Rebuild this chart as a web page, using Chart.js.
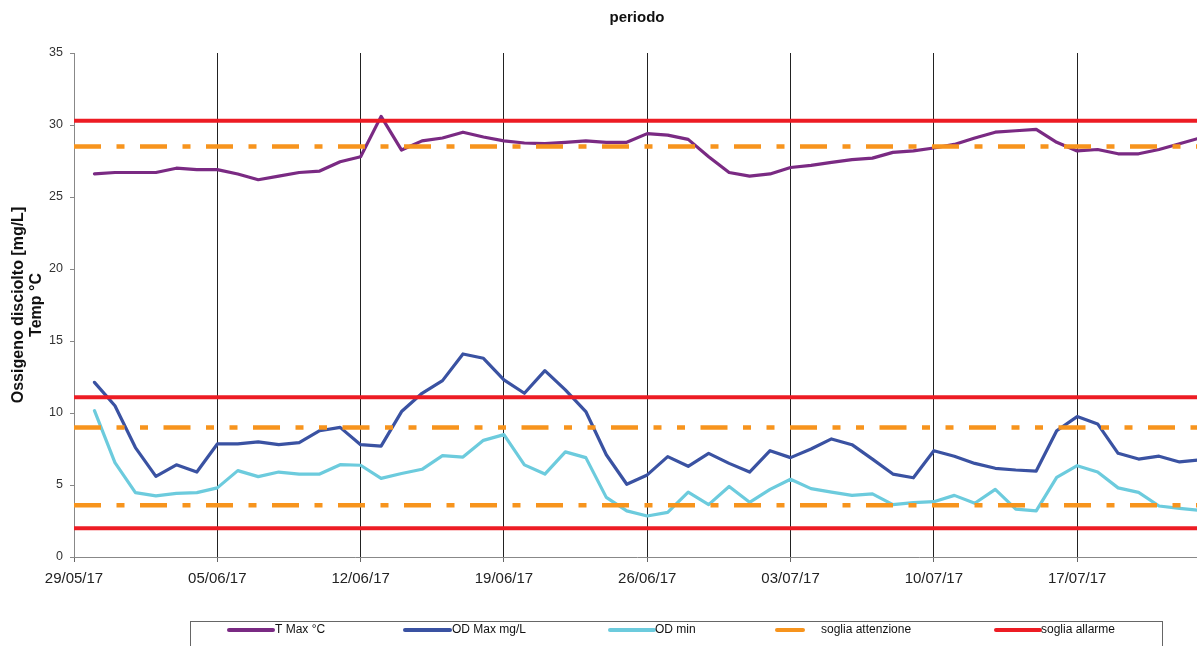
<!DOCTYPE html>
<html lang="it">
<head>
    <meta charset="UTF-8">
    <title>periodo</title>
    <script src="https://cdn.jsdelivr.net/npm/chart.js"></script>
    <style>
        html, body { margin: 0; padding: 0; background: #fff; overflow: hidden; }
        #wrap { position: relative; width: 1200px; height: 646px; }
    </style>
</head>
<body>
    <div id="wrap"><canvas id="odChart"></canvas></div>

    <script>
        // dates (29/05/17 has no reading, it only starts the axis)
        const days = [
            '29/05/17', '30/05/17', '31/05/17',
            '01/06/17', '02/06/17', '03/06/17', '04/06/17', '05/06/17', '06/06/17', '07/06/17', '08/06/17', '09/06/17', '10/06/17',
            '11/06/17', '12/06/17', '13/06/17', '14/06/17', '15/06/17', '16/06/17', '17/06/17', '18/06/17', '19/06/17', '20/06/17',
            '21/06/17', '22/06/17', '23/06/17', '24/06/17', '25/06/17', '26/06/17', '27/06/17', '28/06/17', '29/06/17', '30/06/17',
            '01/07/17', '02/07/17', '03/07/17', '04/07/17', '05/07/17', '06/07/17', '07/07/17', '08/07/17', '09/07/17', '10/07/17',
            '11/07/17', '12/07/17', '13/07/17', '14/07/17', '15/07/17', '16/07/17', '17/07/17', '18/07/17', '19/07/17', '20/07/17',
            '21/07/17', '22/07/17', '23/07/17'
        ];
        const weekTicks = ['29/05/17', '05/06/17', '12/06/17', '19/06/17', '26/06/17', '03/07/17', '10/07/17', '17/07/17'];

        const tMax = [null,
            26.6, 26.7, 26.7, 26.7, 27.0, 26.9, 26.9, 26.6, 26.2, 26.45,
            26.7, 26.8, 27.45, 27.8, 30.6, 28.26, 28.9, 29.1, 29.5, 29.17,
            28.9, 28.75, 28.7, 28.8, 28.9, 28.8, 28.8, 29.4, 29.3, 29.0,
            27.8, 26.7, 26.45, 26.6, 27.05, 27.2, 27.4, 27.6, 27.7, 28.1,
            28.2, 28.4, 28.65, 29.1, 29.5, 29.6, 29.7, 28.8, 28.2, 28.3,
            28.0, 28.0, 28.3, 28.7, 29.1];
        const odMax = [null,
            12.13, 10.5, 7.6, 5.6, 6.4, 5.9, 7.85, 7.85, 8.0, 7.8,
            7.94, 8.77, 9.0, 7.8, 7.7, 10.1, 11.37, 12.25, 14.1, 13.8,
            12.3, 11.37, 12.94, 11.6, 10.1, 7.1, 5.05, 5.7, 6.97, 6.3,
            7.2, 6.5, 5.9, 7.38, 6.9, 7.5, 8.2, 7.8, 6.8, 5.76,
            5.5, 7.38, 7.0, 6.5, 6.16, 6.04, 5.97, 8.77, 9.75, 9.24,
            7.2, 6.8, 7.0, 6.6, 6.74];
        const odMin = [null,
            10.16, 6.55, 4.47, 4.24, 4.42, 4.47, 4.8, 6.0, 5.58, 5.9,
            5.76, 5.76, 6.41, 6.37, 5.46, 5.8, 6.09, 7.04, 6.94, 8.1,
            8.5, 6.4, 5.76, 7.3, 6.9, 4.14, 3.2, 2.85, 3.1, 4.5,
            3.64, 4.9, 3.8, 4.7, 5.4, 4.75, 4.5, 4.28, 4.38, 3.64,
            3.78, 3.84, 4.28, 3.73, 4.7, 3.33, 3.2, 5.53, 6.34, 5.9,
            4.8, 4.49, 3.54, 3.38, 3.24];

        // threshold levels
        const sogliaAttenzione = [28.5, 9.0, 3.6];
        const sogliaAllarme = [30.3, 11.1, 2.0];
        const thresholdNames = ['soglia attenzione', 'soglia allarme'];

        const FONT = "'Liberation Sans', Arial, sans-serif";
        const ORANGE = '#F7941D';
        const RED = '#ED1C24';

        // dash pattern of each orange line (top, middle, bottom)
        const orangeDash = [[27, 15.5, 8, 15.5], [27, 15.5, 8, 15.5, 8, 15.5], [27, 15.5, 8, 15.5]];

        const thresholdPlugin = {
            id: 'thresholds',
            afterDatasetsDraw(chart) {
                const { ctx, chartArea, scales } = chart;
                ctx.save();
                ctx.lineCap = 'butt';
                sogliaAttenzione.forEach((v, i) => {
                    const y = scales.y.getPixelForValue(v);
                    ctx.strokeStyle = ORANGE;
                    ctx.lineWidth = 4.5;
                    ctx.setLineDash(orangeDash[i]);
                    ctx.beginPath();
                    ctx.moveTo(chartArea.left, y);
                    ctx.lineTo(chartArea.right, y);
                    ctx.stroke();
                });
                ctx.setLineDash([]);
                sogliaAllarme.forEach(v => {
                    const y = scales.y.getPixelForValue(v);
                    ctx.strokeStyle = RED;
                    ctx.lineWidth = 4;
                    ctx.beginPath();
                    ctx.moveTo(chartArea.left, y);
                    ctx.lineTo(chartArea.right, y);
                    ctx.stroke();
                });
                ctx.restore();
            }
        };

        // boxed legend under the x axis
        const boxLegend = {
            id: 'boxLegend',
            afterDraw(chart) {
                const ctx = chart.ctx;
                const ds = chart.data.datasets;
                const items = [
                    { color: ds[0].borderColor, text: ds[0].label, x: 229, w: 44, tx: 275 },
                    { color: ds[1].borderColor, text: ds[1].label, x: 405, w: 45, tx: 452 },
                    { color: ds[2].borderColor, text: ds[2].label, x: 610, w: 44, tx: 655 },
                    { color: ORANGE, text: thresholdNames[0], x: 777, w: 26, tx: 821 },
                    { color: RED, text: thresholdNames[1], x: 996, w: 44, tx: 1041 }
                ];
                ctx.save();
                ctx.strokeStyle = '#666';
                ctx.lineWidth = 1;
                ctx.strokeRect(190.5, 621.5, 972, 40);
                ctx.font = '12px ' + FONT;
                ctx.textBaseline = 'middle';
                ctx.fillStyle = '#111';
                items.forEach(it => {
                    ctx.strokeStyle = it.color;
                    ctx.lineWidth = 4;
                    ctx.lineCap = 'round';
                    ctx.beginPath();
                    ctx.moveTo(it.x, 630);
                    ctx.lineTo(it.x + it.w, 630);
                    ctx.stroke();
                    ctx.fillText(it.text, it.tx, 630);
                });
                ctx.restore();
            }
        };

        const ctx = document.getElementById('odChart').getContext('2d');
        new Chart(ctx, {
            type: 'line',
            data: {
                labels: days,
                datasets: [
                    { label: 'T Max °C', data: tMax, borderColor: '#7A2A83' },
                    { label: 'OD Max mg/L', data: odMax, borderColor: '#3A52A2' },
                    { label: 'OD min', data: odMin, borderColor: '#6CCBDD' }
                ]
            },
            options: {
                responsive: true,
                maintainAspectRatio: false,
                animation: false,
                layout: { padding: { left: 0, right: 0, top: 0, bottom: 56 } },
                elements: {
                    line: { borderWidth: 3.2, tension: 0, borderJoinStyle: 'round', borderCapStyle: 'round' },
                    point: { radius: 0 }
                },
                plugins: {
                    legend: { display: false },
                    tooltip: { enabled: false }
                },
                scales: {
                    // top axis only carries the "periodo" title, centred over the plot
                    xTop: {
                        type: 'category',
                        position: 'top',
                        offset: false,
                        afterFit(scale) { scale.height = 53; },
                        border: { display: false },
                        grid: { display: false, drawTicks: false },
                        ticks: { display: false },
                        title: {
                            display: true,
                            text: 'periodo',
                            color: '#111',
                            font: { family: FONT, size: 15, weight: 'bold' },
                            padding: { top: 9, bottom: 0 }
                        }
                    },
                    x: {
                        type: 'category',
                        offset: false,
                        afterFit(scale) { scale.height = 33; },
                        border: { color: '#888', width: 1 },
                        grid: {
                            color: c => c.index === 0 ? '#888' : '#222',
                            lineWidth: 1,
                            tickLength: 5,
                            tickColor: '#666'
                        },
                        ticks: {
                            autoSkip: false,
                            maxRotation: 0,
                            padding: 8,
                            color: '#222',
                            font: { family: FONT, size: 15 },
                            callback(v, i) {
                                const lab = days[i];
                                return weekTicks.includes(lab) ? lab : null;
                            }
                        }
                    },
                    y: {
                        min: 0,
                        max: 35,
                        afterFit(scale) { scale.width = 74; },
                        border: { color: '#888', width: 1 },
                        grid: { drawOnChartArea: false, tickLength: 4, color: '#888' },
                        ticks: {
                            stepSize: 5,
                            padding: 7,
                            color: '#333',
                            font: { family: FONT, size: 12.5 }
                        },
                        title: {
                            display: true,
                            text: ['Ossigeno disciolto [mg/L]', 'Temp °C'],
                            color: '#111',
                            font: { family: FONT, size: 16, weight: 'bold', lineHeight: 1.15 },
                            padding: { top: 9, bottom: 0 }
                        }
                    }
                }
            },
            plugins: [thresholdPlugin, boxLegend]
        });
    </script>
</body>
</html>
